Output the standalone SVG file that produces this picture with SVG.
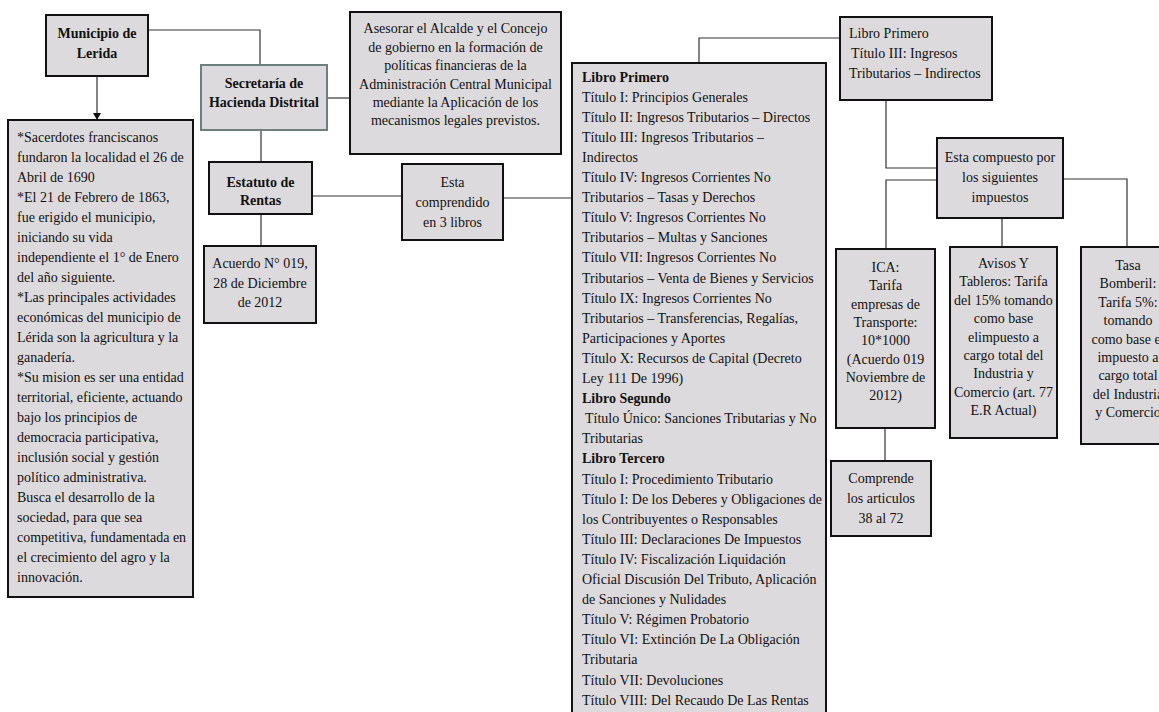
<svg xmlns="http://www.w3.org/2000/svg" width="1159" height="712" viewBox="0 0 1159 712">
<defs>
<style>
.box{fill:#dddadd;stroke:#111;stroke-width:2}
.box2{fill:#dddadd;stroke:#6f7f7e;stroke-width:2}
.t{font-family:"Liberation Serif","Times New Roman",serif;font-size:14px;fill:#111}
.c{text-anchor:middle}
.b{font-weight:bold}
.ln{fill:none;stroke:#333;stroke-width:1.2}
</style>
<marker id="arr" markerWidth="8" markerHeight="8" refX="7" refY="4" orient="auto" markerUnits="userSpaceOnUse">
<path d="M0,0 L7,4 L0,8 Z" fill="#111"/>
</marker>
</defs>
<rect width="1159" height="712" fill="#fff"/>

<g id="connectors">
<path class="ln" d="M148,30 H260 V65"/>
<path class="ln" d="M97,76 V120" marker-end="url(#arr)"/>
<path class="ln" d="M327,98 H350"/>
<path class="ln" d="M261,130 V162"/>
<path class="ln" d="M261,214 V246"/>
<path class="ln" d="M312,196 H402"/>
<path class="ln" d="M503,198 H572"/>
<path class="ln" d="M699,63 V38 H840"/>
<path class="ln" d="M886,100 V168 H937"/>
<path class="ln" d="M937,180 H886 V249"/>
<path class="ln" d="M1063,179 H1127 V247"/>
<path class="ln" d="M1002,218 V247"/>
<path class="ln" d="M885,428 V461"/>
</g>

<g id="municipio">
<rect class="box" x="46" y="15" width="102" height="61"/>
<text class="t c b" x="97" y="38">Municipio de</text>
<text class="t c b" x="97" y="58">Lerida</text>
</g>

<g id="secretaria">
<rect class="box2" x="201" y="65" width="126" height="65"/>
<text class="t c b" x="264" y="88">Secretaría de</text>
<text class="t c b" x="264" y="107">Hacienda Distrital</text>
</g>

<g id="asesorar">
<rect class="box" x="350" y="12" width="211" height="142"/>
<text class="t c" x="455.5" y="33">Asesorar el Alcalde  y el Concejo</text>
<text class="t c" x="455.5" y="52">de gobierno  en la formación  de</text>
<text class="t c" x="455.5" y="70">políticas  financieras  de la</text>
<text class="t c" x="455.5" y="88.5">Administración  Central Municipal</text>
<text class="t c" x="455.5" y="107">mediante  la Aplicación  de los</text>
<text class="t c" x="455.5" y="125">mecanismos  legales  previstos.</text>
</g>

<g id="estatuto">
<rect class="box" x="209" y="162" width="103" height="52"/>
<text class="t c b" x="260.5" y="187">Estatuto de</text>
<text class="t c b" x="260.5" y="205">Rentas</text>
</g>

<g id="acuerdo">
<rect class="box" x="204" y="246" width="112" height="77"/>
<text class="t c" x="260" y="268">Acuerdo  N° 019,</text>
<text class="t c" x="260" y="288">28 de Diciembre</text>
<text class="t c" x="260" y="307">de 2012</text>
</g>

<g id="comprendido">
<rect class="box" x="402" y="164" width="101" height="76"/>
<text class="t c" x="452.5" y="187">Esta</text>
<text class="t c" x="452.5" y="207">comprendido</text>
<text class="t c" x="452.5" y="227">en  3 libros</text>
</g>

<g id="historia">
<rect class="box" x="8" y="120" width="185" height="477"/>
<text class="t" x="17" y="142">*Sacerdotes franciscanos</text>
<text class="t" x="17" y="162">fundaron  la localidad  el 26 de</text>
<text class="t" x="17" y="182">Abril  de 1690</text>
<text class="t" x="17" y="202">*El 21 de Febrero de 1863,</text>
<text class="t" x="17" y="222">fue erigido  el municipio,</text>
<text class="t" x="17" y="242">iniciando  su vida</text>
<text class="t" x="17" y="262">independiente  el 1° de Enero</text>
<text class="t" x="17" y="282">del año siguiente.</text>
<text class="t" x="17" y="302">*Las principales  actividades</text>
<text class="t" x="17" y="322">económicas  del municipio  de</text>
<text class="t" x="17" y="342">Lérida  son la agricultura  y la</text>
<text class="t" x="17" y="362">ganadería.</text>
<text class="t" x="17" y="382">*Su mision  es ser una  entidad</text>
<text class="t" x="17" y="402">territorial,  eficiente,  actuando</text>
<text class="t" x="17" y="422">bajo los principios  de</text>
<text class="t" x="17" y="442">democracia  participativa,</text>
<text class="t" x="17" y="462">inclusión  social y gestión</text>
<text class="t" x="17" y="482">político  administrativa.</text>
<text class="t" x="17" y="502">Busca el desarrollo  de la</text>
<text class="t" x="17" y="522">sociedad, para que sea</text>
<text class="t" x="17" y="542">competitiva,  fundamentada  en</text>
<text class="t" x="17" y="562">el crecimiento  del agro y la</text>
<text class="t" x="17" y="582">innovación.</text>
</g>

<g id="libros">
<rect class="box" x="572" y="63" width="254" height="660"/>
<text class="t b" x="582" y="81.5">Libro  Primero</text>
<text class="t" x="582" y="101.6">Título  I: Principios  Generales</text>
<text class="t" x="582" y="121.7">Título  II: Ingresos  Tributarios  – Directos</text>
<text class="t" x="582" y="141.8">Título  III: Ingresos  Tributarios  –</text>
<text class="t" x="582" y="161.9">Indirectos</text>
<text class="t" x="582" y="182">Título  IV: Ingresos  Corrientes  No</text>
<text class="t" x="582" y="202.1">Tributarios  – Tasas y Derechos</text>
<text class="t" x="582" y="222.2">Título  V: Ingresos  Corrientes  No</text>
<text class="t" x="582" y="242.3">Tributarios  – Multas  y Sanciones</text>
<text class="t" x="582" y="262.4">Título  VII: Ingresos  Corrientes  No</text>
<text class="t" x="582" y="282.5">Tributarios  – Venta de Bienes  y Servicios</text>
<text class="t" x="582" y="302.6">Título  IX: Ingresos  Corrientes  No</text>
<text class="t" x="582" y="322.7">Tributarios  – Transferencias,  Regalías,</text>
<text class="t" x="582" y="342.8">Participaciones  y Aportes</text>
<text class="t" x="582" y="362.9">Título  X: Recursos  de Capital (Decreto</text>
<text class="t" x="582" y="383">Ley 111 De 1996)</text>
<text class="t b" x="582" y="403.1">Libro  Segundo</text>
<text class="t" x="585" y="423.2">Título  Único:  Sanciones  Tributarias  y No</text>
<text class="t" x="582" y="443.3">Tributarias</text>
<text class="t b" x="582" y="463.4">Libro  Tercero</text>
<text class="t" x="582" y="483.5">Título  I: Procedimiento  Tributario</text>
<text class="t" x="582" y="503.6">Título  I: De los Deberes y Obligaciones  de</text>
<text class="t" x="582" y="523.7">los Contribuyentes  o Responsables</text>
<text class="t" x="582" y="543.8">Título  III: Declaraciones  De Impuestos</text>
<text class="t" x="582" y="563.9">Título  IV: Fiscalización  Liquidación</text>
<text class="t" x="582" y="584">Oficial  Discusión  Del Tributo,  Aplicación</text>
<text class="t" x="582" y="604.1">de Sanciones  y Nulidades</text>
<text class="t" x="582" y="624.2">Título  V: Régimen  Probatorio</text>
<text class="t" x="582" y="644.3">Título  VI: Extinción  De La Obligación</text>
<text class="t" x="582" y="664.4">Tributaria</text>
<text class="t" x="582" y="684.5">Título  VII: Devoluciones</text>
<text class="t" x="582" y="704.6">Título  VIII: Del Recaudo  De Las Rentas</text>
</g>

<g id="libro-primero-titulo3">
<rect class="box" x="840" y="17" width="152" height="83"/>
<text class="t" x="849" y="38">Libro  Primero</text>
<text class="t" x="851" y="58">Título  III: Ingresos</text>
<text class="t" x="849" y="78">Tributarios  – Indirectos</text>
</g>

<g id="compuesto">
<rect class="box" x="937" y="138" width="126" height="80"/>
<text class="t c" x="1000" y="162">Esta compuesto  por</text>
<text class="t c" x="1000" y="182">los siguientes</text>
<text class="t c" x="1000" y="202">impuestos</text>
</g>

<g id="ica">
<rect class="box" x="836" y="249" width="99" height="179"/>
<text class="t c" x="885.5" y="272">ICA:</text>
<text class="t c" x="885.5" y="290.3">Tarifa</text>
<text class="t c" x="885.5" y="308.6">empresas  de</text>
<text class="t c" x="885.5" y="326.9">Transporte:</text>
<text class="t c" x="885.5" y="345.2">10*1000</text>
<text class="t c" x="885.5" y="363.5">(Acuerdo  019</text>
<text class="t c" x="885.5" y="381.8">Noviembre  de</text>
<text class="t c" x="885.5" y="400.1">2012)</text>
</g>

<g id="avisos">
<rect class="box" x="950" y="247" width="107" height="191"/>
<text class="t c" x="1003.5" y="268">Avisos Y</text>
<text class="t c" x="1003.5" y="286.4">Tableros:  Tarifa</text>
<text class="t c" x="1003.5" y="304.8">del 15% tomando</text>
<text class="t c" x="1003.5" y="323.2">como base</text>
<text class="t c" x="1003.5" y="341.6">elimpuesto  a</text>
<text class="t c" x="1003.5" y="360">cargo  total del</text>
<text class="t c" x="1003.5" y="378.4">Industria  y</text>
<text class="t c" x="1003.5" y="396.8">Comercio (art. 77</text>
<text class="t c" x="1003.5" y="415.2">E.R Actual)</text>
</g>

<g id="tasa">
<rect class="box" x="1081" y="247" width="95" height="197"/>
<text class="t c" x="1128" y="270">Tasa</text>
<text class="t c" x="1128" y="288.4">Bomberil:</text>
<text class="t c" x="1128" y="306.8">Tarifa  5%:</text>
<text class="t c" x="1128" y="325.2">tomando</text>
<text class="t c" x="1128" y="343.6">como base el</text>
<text class="t c" x="1128" y="362">impuesto  a</text>
<text class="t c" x="1128" y="380.4">cargo  total</text>
<text class="t c" x="1128" y="398.8">del Industria</text>
<text class="t c" x="1128" y="417.2">y Comercio</text>
</g>

<g id="comprende">
<rect class="box" x="831" y="461" width="100" height="75"/>
<text class="t c" x="881" y="483">Comprende</text>
<text class="t c" x="881" y="503">los articulos</text>
<text class="t c" x="881" y="523">38 al 72</text>
</g>
</svg>
